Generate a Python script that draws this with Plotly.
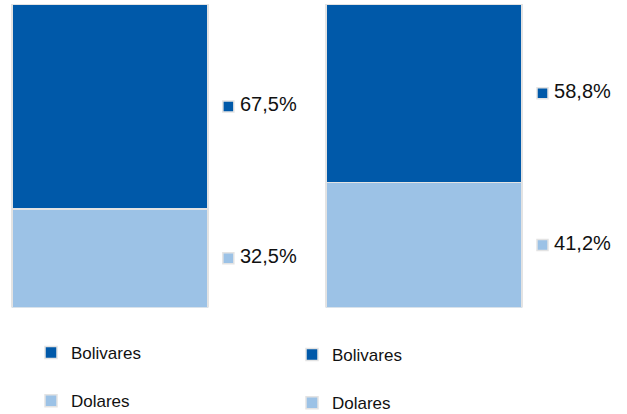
import plotly.graph_objects as go

# ---- data ----
charts = [0, 1]                       # two stacked bars (left, right)
series_names = ["Dolares", "Bolivares"]
bolivares = [67.5, 58.8]
dolares = [32.5, 41.2]
label_texts_bol = ["67,5%", "58,8%"]
label_texts_dol = ["32,5%", "41,2%"]

# ---- style ----
DARK = "#0059A9"
LIGHT = "#9CC2E6"
EDGE = "#E3E3E3"
FONT = "Liberation Sans"
BAR_WIDTH = 0.624
MARKER_OFFSET = 0.377
TEXT_OFFSET = 0.414
W, H = 627, 414

fig = go.Figure()
legends = ["legend", "legend2"]

for i in charts:
    fig.add_trace(go.Bar(
        x=[i], y=[dolares[i]], width=BAR_WIDTH, name="Dolares",
        marker=dict(color=LIGHT, line=dict(color=EDGE, width=1.5)),
        legend=legends[i], legendgroup=f"d{i}", legendrank=2,
        hoverinfo="skip"))
    fig.add_trace(go.Bar(
        x=[i], y=[bolivares[i]], width=BAR_WIDTH, name="Bolivares",
        marker=dict(color=DARK, line=dict(color=EDGE, width=1.5)),
        legend=legends[i], legendgroup=f"b{i}", legendrank=1,
        hoverinfo="skip"))

# value labels with square markers beside each bar segment
for i in charts:
    ys = [dolares[i] + bolivares[i] / 2, dolares[i] / 2]
    fig.add_trace(go.Scatter(
        x=[i + MARKER_OFFSET] * 2, y=ys, mode="markers",
        marker=dict(symbol="square", size=11, color=[DARK, LIGHT],
                    line=dict(color=EDGE, width=1.5)),
        showlegend=False, hoverinfo="skip"))
    fig.add_trace(go.Scatter(
        x=[i + TEXT_OFFSET] * 2, y=ys, mode="text",
        text=[label_texts_bol[i], label_texts_dol[i]],
        textposition="middle right",
        textfont=dict(family=FONT, size=20, color="#111111"),
        showlegend=False, hoverinfo="skip"))

legend_style = dict(xanchor="left", yanchor="top", tracegroupgap=23,
                    traceorder="grouped", bgcolor="rgba(0,0,0,0)",
                    font=dict(family=FONT, size=17, color="#111111"))

fig.update_layout(
    width=W, height=H,
    margin=dict(l=0, r=0, t=0, b=0, autoexpand=False),
    paper_bgcolor="white", plot_bgcolor="white",
    barmode="stack",
    font=dict(family=FONT, size=17, color="#111111"),
    xaxis=dict(range=[-0.350, 1.646], visible=False, fixedrange=True),
    yaxis=dict(range=[0, 100], domain=[1 - 307.5 / H, 1 - 4 / H],
               visible=False, fixedrange=True),
    legend=dict(x=31 / W, y=1 - 335 / H, **legend_style),
    legend2=dict(x=292 / W, y=1 - 337 / H, **legend_style),
)

fig.write_html("out.html", config={"displayModeBar": False},
               post_script="document.body.style.margin='0';")
